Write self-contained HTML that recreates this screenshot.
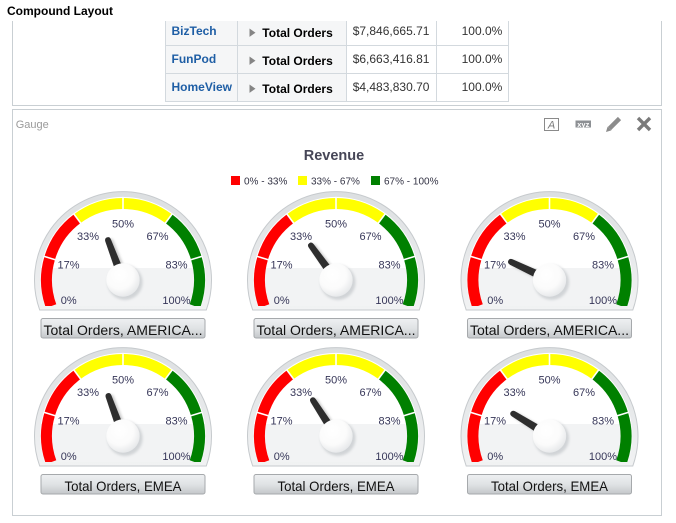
<!DOCTYPE html>
<html>
<head>
<meta charset="utf-8">
<style>
  html,body{margin:0;padding:0;background:#fff;}
  body{width:676px;height:523px;overflow:hidden;}
  svg{display:block;}
</style>
</head>
<body>
<svg width="676" height="523" viewBox="0 0 676 523" xmlns="http://www.w3.org/2000/svg" font-family="'Liberation Sans', Arial, sans-serif">
  <defs>
    <linearGradient id="bez" x1="0" y1="0" x2="0" y2="1">
      <stop offset="0" stop-color="#dcdfe1"/>
      <stop offset="1" stop-color="#f1f2f3"/>
    </linearGradient>
    <linearGradient id="btn" x1="0" y1="0" x2="0" y2="1">
      <stop offset="0" stop-color="#eef0f2"/>
      <stop offset="0.5" stop-color="#e0e3e5"/>
      <stop offset="1" stop-color="#c4c7ca"/>
    </linearGradient>
    <radialGradient id="hubg" cx="0.4" cy="0.35" r="0.7">
      <stop offset="0" stop-color="#ffffff"/>
      <stop offset="0.6" stop-color="#fbfbfb"/>
      <stop offset="1" stop-color="#e4e6e8"/>
    </radialGradient>
    <filter id="bl" x="-50%" y="-50%" width="200%" height="200%">
      <feGaussianBlur stdDeviation="1.3"/>
    </filter>
    <clipPath id="fc">
      <path d="M -78.8 26 A 83 83 0 1 1 78.8 26 Z"/>
    </clipPath>
    <g id="gb">
      <path d="M -83.3 30 A 88.5 88.5 0 1 1 83.3 30 Z" fill="url(#bez)" stroke="#c6cacd" stroke-width="1"/>
      <path d="M -78.8 26 A 83 83 0 1 1 78.8 26 Z" fill="#ffffff"/>
      <g clip-path="url(#fc)">
        <rect x="-85" y="-12" width="170" height="40" fill="#f2f3f4"/>
        <g fill="none" stroke-width="11">
          <path d="M -71.89 26.16 A 76.5 76.5 0 0 1 -45.69 -61.36" stroke="#ff0000"/>
          <path d="M -45.69 -61.36 A 76.5 76.5 0 0 1 45.69 -61.36" stroke="#ffff00"/>
          <path d="M 45.69 -61.36 A 76.5 76.5 0 0 1 71.89 26.16" stroke="#008000"/>
        </g>
        <g stroke="#ffffff" stroke-width="1.6">
          <line x1="-66.10" y1="-19.79" x2="-80.47" y2="-24.09"/>
          <line x1="-41.21" y1="-55.34" x2="-50.16" y2="-67.38"/>
          <line x1="0" y1="-69" x2="0" y2="-84"/>
          <line x1="41.21" y1="-55.34" x2="50.16" y2="-67.38"/>
          <line x1="66.10" y1="-19.79" x2="80.47" y2="-24.09"/>
        </g>
      </g>
    </g>
    <path id="ndl" d="M -3.8 -14 L -3.0 -42.3 Q -2.8 -45.5 0 -45.5 Q 2.8 -45.5 3.0 -42.3 L 3.8 -14 Z"/>
    <g id="hb">
      <circle cx="2" cy="2.3" r="17.6" fill="#a9aeb3" opacity="0.45" filter="url(#bl)"/>
      <circle cx="0" cy="0" r="16.7" fill="url(#hubg)"/>
    </g>
  </defs>

  <!-- Header -->
  <text x="7" y="15" font-size="12" font-weight="bold" fill="#000">Compound Layout</text>

  <!-- Top panel borders -->
  <g stroke="#c9cfd3" stroke-width="1" fill="none">
    <line x1="12.5" y1="21" x2="12.5" y2="106"/>
    <line x1="661.5" y1="21" x2="661.5" y2="106"/>
    <line x1="12" y1="105.5" x2="662" y2="105.5"/>
  </g>

  <!-- Table -->
  <rect x="165.5" y="21" width="181" height="80.5" fill="#f5f6f7"/>
  <g stroke="#d3d9de" stroke-width="1">
    <line x1="165.5" y1="21" x2="165.5" y2="102"/>
    <line x1="237.5" y1="21" x2="237.5" y2="102"/>
    <line x1="346.5" y1="21" x2="346.5" y2="102"/>
    <line x1="436.5" y1="21" x2="436.5" y2="102"/>
    <line x1="508.5" y1="21" x2="508.5" y2="102"/>
    <line x1="165" y1="45.5" x2="509" y2="45.5"/>
    <line x1="165" y1="73.5" x2="509" y2="73.5"/>
    <line x1="165" y1="101.5" x2="509" y2="101.5"/>
  </g>
  <g font-size="12" font-weight="bold" fill="#1e5ea5">
    <text x="171.5" y="35">BizTech</text>
    <text x="171.5" y="63">FunPod</text>
    <text x="171.5" y="91">HomeView</text>
  </g>
  <g fill="#858585">
    <polygon points="249.5,28.5 255.5,32.7 249.5,36.9"/>
    <polygon points="249.5,56.5 255.5,60.7 249.5,64.9"/>
    <polygon points="249.5,84.5 255.5,88.7 249.5,92.9"/>
  </g>
  <g font-size="12" font-weight="bold" fill="#000">
    <text x="262.3" y="37">Total Orders</text>
    <text x="262.3" y="65">Total Orders</text>
    <text x="262.3" y="93">Total Orders</text>
  </g>
  <g font-size="12" fill="#333">
    <text x="352.7" y="35">$7,846,665.71</text>
    <text x="352.7" y="63">$6,663,416.81</text>
    <text x="352.7" y="91">$4,483,830.70</text>
    <text x="502.3" y="35" text-anchor="end">100.0%</text>
    <text x="502.3" y="63" text-anchor="end">100.0%</text>
    <text x="502.3" y="91" text-anchor="end">100.0%</text>
  </g>

  <!-- Gauge panel -->
  <rect x="12.5" y="109.5" width="649" height="406" fill="#fff" stroke="#c9cfd3" stroke-width="1"/>
  <text x="15.7" y="128" font-size="11" fill="#9a9a9a">Gauge</text>

  <!-- Toolbar icons -->
  <g>
    <rect x="544.5" y="118.5" width="14" height="12" fill="none" stroke="#8a8a8a" stroke-width="1"/>
    <text x="551.5" y="128.5" font-size="11" font-style="italic" fill="#7a7a7a" text-anchor="middle">A</text>
    <rect x="575.5" y="120.5" width="15.5" height="7" fill="#8d9094"/>
    <text x="583.3" y="126.8" font-size="7.5" font-weight="bold" fill="#fff" text-anchor="middle">xyz</text>
    <line x1="609.5" y1="128.5" x2="619.5" y2="118.5" stroke="#8c8c8c" stroke-width="4.5"/>
    <polygon points="606,132 607.6,126.6 611.4,130.4" fill="#8c8c8c"/>
    <g stroke="#7b7b7b" stroke-width="3.4" stroke-linecap="butt">
      <line x1="638" y1="118" x2="650" y2="130"/>
      <line x1="650" y1="118" x2="638" y2="130"/>
    </g>
  </g>

  <!-- Title & legend -->
  <text x="334" y="160" font-size="14.5" font-weight="bold" fill="#464657" text-anchor="middle">Revenue</text>
  <rect x="231" y="176" width="9" height="9" fill="#ff0000"/>
  <text x="244" y="184.5" font-size="10" fill="#333344">0% - 33%</text>
  <rect x="298" y="176" width="9" height="9" fill="#ffff00"/>
  <text x="311" y="184.5" font-size="10" fill="#333344">33% - 67%</text>
  <rect x="371" y="176" width="9" height="9" fill="#008000"/>
  <text x="384" y="184.5" font-size="10" fill="#333344">67% - 100%</text>

  <!-- Gauge 1 -->
  <g transform="translate(123,280)">
    <use href="#gb"/>
    <g transform="translate(2.5,1.5) rotate(-20.6)"><use href="#ndl" fill="#777" opacity="0.4" filter="url(#bl)"/></g>
    <g transform="rotate(-20.6)"><use href="#ndl" fill="#2e2e2e"/></g>
    <use href="#hb"/>
    <g font-size="11" fill="#363658" text-anchor="middle">
      <text x="-54.3" y="24">0%</text><text x="-54.5" y="-11.7">17%</text><text x="-35" y="-40">33%</text>
      <text x="0" y="-52.3">50%</text><text x="34.5" y="-40">67%</text><text x="53.5" y="-11.7">83%</text><text x="53.5" y="24">100%</text>
    </g>
    <rect x="-82" y="38.5" width="164" height="19.5" rx="2" fill="url(#btn)" stroke="#a6a9ac"/>
    <text x="0" y="55" font-size="14" fill="#111" text-anchor="middle" textLength="159" lengthAdjust="spacingAndGlyphs">Total Orders, AMERICA...</text>
  </g>

  <!-- Gauge 2 -->
  <g transform="translate(336,280)">
    <use href="#gb"/>
    <g transform="translate(2.5,1.5) rotate(-36)"><use href="#ndl" fill="#777" opacity="0.4" filter="url(#bl)"/></g>
    <g transform="rotate(-36)"><use href="#ndl" fill="#2e2e2e"/></g>
    <use href="#hb"/>
    <g font-size="11" fill="#363658" text-anchor="middle">
      <text x="-54.3" y="24">0%</text><text x="-54.5" y="-11.7">17%</text><text x="-35" y="-40">33%</text>
      <text x="0" y="-52.3">50%</text><text x="34.5" y="-40">67%</text><text x="53.5" y="-11.7">83%</text><text x="53.5" y="24">100%</text>
    </g>
    <rect x="-82" y="38.5" width="164" height="19.5" rx="2" fill="url(#btn)" stroke="#a6a9ac"/>
    <text x="0" y="55" font-size="14" fill="#111" text-anchor="middle" textLength="159" lengthAdjust="spacingAndGlyphs">Total Orders, AMERICA...</text>
  </g>

  <!-- Gauge 3 -->
  <g transform="translate(549.5,280)">
    <use href="#gb"/>
    <g transform="translate(2.5,1.5) rotate(-64.8)"><use href="#ndl" fill="#777" opacity="0.4" filter="url(#bl)"/></g>
    <g transform="rotate(-64.8)"><use href="#ndl" fill="#2e2e2e"/></g>
    <use href="#hb"/>
    <g font-size="11" fill="#363658" text-anchor="middle">
      <text x="-54.3" y="24">0%</text><text x="-54.5" y="-11.7">17%</text><text x="-35" y="-40">33%</text>
      <text x="0" y="-52.3">50%</text><text x="34.5" y="-40">67%</text><text x="53.5" y="-11.7">83%</text><text x="53.5" y="24">100%</text>
    </g>
    <rect x="-82" y="38.5" width="164" height="19.5" rx="2" fill="url(#btn)" stroke="#a6a9ac"/>
    <text x="0" y="55" font-size="14" fill="#111" text-anchor="middle" textLength="159" lengthAdjust="spacingAndGlyphs">Total Orders, AMERICA...</text>
  </g>

  <!-- Gauge 4 -->
  <g transform="translate(123,436)">
    <use href="#gb"/>
    <g transform="translate(2.5,1.5) rotate(-20)"><use href="#ndl" fill="#777" opacity="0.4" filter="url(#bl)"/></g>
    <g transform="rotate(-20)"><use href="#ndl" fill="#2e2e2e"/></g>
    <use href="#hb"/>
    <g font-size="11" fill="#363658" text-anchor="middle">
      <text x="-54.3" y="24">0%</text><text x="-54.5" y="-11.7">17%</text><text x="-35" y="-40">33%</text>
      <text x="0" y="-52.3">50%</text><text x="34.5" y="-40">67%</text><text x="53.5" y="-11.7">83%</text><text x="53.5" y="24">100%</text>
    </g>
    <rect x="-82" y="38.5" width="164" height="19.5" rx="2" fill="url(#btn)" stroke="#a6a9ac"/>
    <text x="0" y="55" font-size="14" fill="#111" text-anchor="middle" textLength="117" lengthAdjust="spacingAndGlyphs">Total Orders, EMEA</text>
  </g>

  <!-- Gauge 5 -->
  <g transform="translate(336,436)">
    <use href="#gb"/>
    <g transform="translate(2.5,1.5) rotate(-32.8)"><use href="#ndl" fill="#777" opacity="0.4" filter="url(#bl)"/></g>
    <g transform="rotate(-32.8)"><use href="#ndl" fill="#2e2e2e"/></g>
    <use href="#hb"/>
    <g font-size="11" fill="#363658" text-anchor="middle">
      <text x="-54.3" y="24">0%</text><text x="-54.5" y="-11.7">17%</text><text x="-35" y="-40">33%</text>
      <text x="0" y="-52.3">50%</text><text x="34.5" y="-40">67%</text><text x="53.5" y="-11.7">83%</text><text x="53.5" y="24">100%</text>
    </g>
    <rect x="-82" y="38.5" width="164" height="19.5" rx="2" fill="url(#btn)" stroke="#a6a9ac"/>
    <text x="0" y="55" font-size="14" fill="#111" text-anchor="middle" textLength="117" lengthAdjust="spacingAndGlyphs">Total Orders, EMEA</text>
  </g>

  <!-- Gauge 6 -->
  <g transform="translate(549.5,436)">
    <use href="#gb"/>
    <g transform="translate(2.5,1.5) rotate(-58.4)"><use href="#ndl" fill="#777" opacity="0.4" filter="url(#bl)"/></g>
    <g transform="rotate(-58.4)"><use href="#ndl" fill="#2e2e2e"/></g>
    <use href="#hb"/>
    <g font-size="11" fill="#363658" text-anchor="middle">
      <text x="-54.3" y="24">0%</text><text x="-54.5" y="-11.7">17%</text><text x="-35" y="-40">33%</text>
      <text x="0" y="-52.3">50%</text><text x="34.5" y="-40">67%</text><text x="53.5" y="-11.7">83%</text><text x="53.5" y="24">100%</text>
    </g>
    <rect x="-82" y="38.5" width="164" height="19.5" rx="2" fill="url(#btn)" stroke="#a6a9ac"/>
    <text x="0" y="55" font-size="14" fill="#111" text-anchor="middle" textLength="117" lengthAdjust="spacingAndGlyphs">Total Orders, EMEA</text>
  </g>
</svg>
</body>
</html>
